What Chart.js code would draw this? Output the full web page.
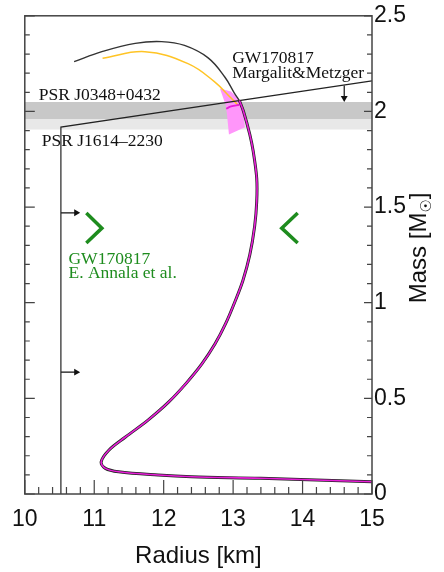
<!DOCTYPE html>
<html>
<head>
<meta charset="utf-8">
<script src="https://cdn.jsdelivr.net/npm/chart.js@4"></script>
<style>
  body { margin: 0; background: #fff; }
  #wrap { width: 444px; height: 572px; }
</style>
</head>
<body>
<div id="wrap"><canvas id="chartId"></canvas></div>
<script>
// mass-radius curve, upper branch (black)
var blackR = [10.71, 11.11, 11.59, 11.97, 12.30, 12.64, 12.88, 13.02, 13.09];
var blackM = [2.26, 2.3125, 2.356, 2.365, 2.345, 2.28, 2.18, 2.095, 2.057];
// second EOS upper branch (yellow)
var yellowR = [11.12, 11.73, 12.35, 12.73, 12.97, 13.08];
var yellowM = [2.278, 2.3125, 2.25, 2.156, 2.07, 2.03];
// shared lower branch (black under magenta)
var lowerR = [13.09, 13.15, 13.24, 13.29, 13.34, 13.34, 13.31, 13.24, 13.14, 13.02, 12.89, 12.74, 12.55, 12.32, 12.07, 11.77, 11.45, 11.21, 11.10, 11.16, 11.35, 11.92, 12.4, 13.4, 15];
var lowerM = [2.057, 2.0, 1.88, 1.79, 1.65, 1.53, 1.40, 1.25, 1.115, 1.0, 0.889, 0.785, 0.68, 0.577, 0.48, 0.385, 0.298, 0.229, 0.168, 0.134, 0.116, 0.099, 0.09, 0.082, 0.064];
// small magenta hook near the max mass
var hookR = [12.90, 12.97, 13.09];
var hookM = [2.014, 2.026, 2.035];
// pink shaded region
var pinkR = [12.81, 12.97, 13.07, 13.14, 13.17, 12.94, 12.91, 12.89, 12.81];
var pinkM = [2.12, 2.104, 2.068, 2.016, 1.917, 1.88, 1.99, 2.036, 2.12];
// pulsar mass bands
var psr0348 = [1.96, 2.05];
var psr1614 = [1.905, 1.96];
// Margalit & Metzger bound
var mmR = [10.52, 10.52, 15];
var mmM = [0, 1.918, 2.16];
// Annala et al. radius bounds (chevrons)
var lowChevR = [10.886, 11.11, 10.886];
var highChevR = [13.93, 13.70, 13.93];
var chevM = [1.469, 1.39, 1.3125];
// arrows
var arrowM = [1.47, 0.637];
var downArrowR = 14.6;

var xTicks = [10, 11, 12, 13, 14, 15];
var yTicks = [0, 0.5, 1, 1.5, 2, 2.5];

function pts(xs, ys) {
  return xs.map(function (x, i) { return { x: x, y: ys[i] }; });
}

var labels = [
  { text: 'PSR J0348+0432', r: 10.2, m: 2.083, color: '#111' },
  { text: 'PSR J1614\u20132230', r: 10.243, m: 1.844, color: '#111' },
  { text: 'GW170817', r: 12.986, m: 2.276, color: '#111' },
  { text: 'Margalit&Metzger', r: 12.986, m: 2.198, color: '#111' },
  { text: 'GW170817', r: 10.629, m: 1.229, color: '#1e8c1e' },
  { text: 'E. Annala et al.', r: 10.629, m: 1.151, color: '#1e8c1e' }
];

var line = function (data, color, width, extra) {
  var ds = { data: data, showLine: true, borderColor: color, borderWidth: width, pointRadius: 0, fill: false, tension: 0 };
  return Object.assign(ds, extra || {});
};

var datasets = [
  line(pts(lowerR, lowerM), '#e81ed8', 1.6, { tension: 0.35, order: 1 }),
  line(pts(hookR, hookM), '#e81ed8', 1.8, { tension: 0.4, order: 1 }),
  line(pts(lowerR, lowerM), '#222', 3, { tension: 0.35, order: 2 }),
  line(pts(yellowR, yellowM), '#ffc425', 1.5, { tension: 0.4, order: 3 }),
  line(pts(blackR, blackM), '#333', 1.4, { tension: 0.4, order: 2 }),
  line(pts(pinkR, pinkM), 'rgba(0,0,0,0)', 0, { fill: 'shape', backgroundColor: '#ff96fa', order: 4 }),
  line(pts(mmR, mmM), '#222', 1.2, { order: 2 }),
  line(pts(lowChevR, chevM), '#1e8c1e', 3.5, { order: 2 }),
  line(pts(highChevR, chevM), '#1e8c1e', 3.5, { order: 2 }),
  line(pts([10, 15], [psr0348[1], psr0348[1]]), 'rgba(0,0,0,0)', 0, { fill: { value: psr0348[0] }, backgroundColor: '#c8c8c8', order: 6 }),
  line(pts([10, 15], [psr1614[1], psr1614[1]]), 'rgba(0,0,0,0)', 0, { fill: { value: psr1614[0] }, backgroundColor: '#e8e8e8', order: 7 })
];

arrowM.forEach(function (m) {
  datasets.push(line(pts([10.52, 10.74], [m, m]), '#111', 1.2, {
    pointRadius: [0, 4], pointStyle: 'triangle', rotation: 90, pointBackgroundColor: '#111', pointBorderColor: '#111', pointBorderWidth: 0, order: 2
  }));
});
datasets.push(line(pts([downArrowR, downArrowR], [2.135, 2.07]), '#111', 1.2, {
  pointRadius: [0, 4], pointStyle: 'triangle', rotation: 180, pointBackgroundColor: '#111', pointBorderColor: '#111', pointBorderWidth: 0, order: 2
}));

// frame, inward ticks, annotations and the rotated y title
var decor = {
  id: 'decor',
  afterDraw: function (chart) {
    var ctx = chart.ctx, a = chart.chartArea;
    var xs = chart.scales.x, ys = chart.scales.y;
    ctx.save();
    ctx.strokeStyle = '#444';
    ctx.lineWidth = 1.5;
    ctx.strokeRect(a.left, a.top, a.right - a.left, a.bottom - a.top);
    ctx.lineWidth = 1.2;
    ctx.beginPath();
    for (var i = 0; i <= 25; i++) {
      var px = xs.getPixelForValue(10 + i * 0.2);
      var len = i % 5 === 0 ? 14 : 7;
      ctx.moveTo(px, a.bottom); ctx.lineTo(px, a.bottom - len);
    }
    for (var j = 0; j <= 25; j++) {
      var py = ys.getPixelForValue(j * 0.1);
      var major = j % 5 === 0;
      ctx.moveTo(a.left, py); ctx.lineTo(a.left + (major ? 10 : 5), py);
      ctx.moveTo(a.right, py); ctx.lineTo(a.right - (major ? 8 : 5), py);
    }
    ctx.stroke();

    ctx.textBaseline = 'middle';
    ctx.textAlign = 'left';
    ctx.font = '17.5px "Liberation Serif"';
    labels.forEach(function (l) {
      ctx.fillStyle = l.color;
      ctx.fillText(l.text, xs.getPixelForValue(l.r), ys.getPixelForValue(l.m));
    });

    ctx.translate(a.right + 47, (a.top + a.bottom) / 2 - 7);
    ctx.rotate(-Math.PI / 2);
    ctx.fillStyle = '#111';
    var t1 = 'Mass [M', t3 = ']';
    ctx.font = '24px "Liberation Sans"';
    var w1 = ctx.measureText(t1).width;
    ctx.font = '15px "DejaVu Sans"';
    var w2 = ctx.measureText('\u2609').width;
    ctx.font = '24px "Liberation Sans"';
    var w3 = ctx.measureText(t3).width;
    var x0 = -(w1 + w2 + w3) / 2;
    ctx.fillText(t1, x0, 0);
    ctx.font = '15px "DejaVu Sans"';
    ctx.fillText('\u2609', x0 + w1, 8);
    ctx.font = '24px "Liberation Sans"';
    ctx.fillText(t3, x0 + w1 + w2, 0);
    ctx.restore();
  }
};

var chrt = document.getElementById('chartId').getContext('2d');
var chartId = new Chart(chrt, {
  type: 'scatter',
  data: { datasets: datasets },
  options: {
    responsive: true,
    maintainAspectRatio: false,
    animation: false,
    events: [],
    layout: { padding: { left: 22, top: 14, right: 0, bottom: 0 } },
    plugins: { legend: { display: false }, tooltip: { enabled: false } },
    scales: {
      x: {
        type: 'linear', min: 10, max: 15,
        afterFit: function (s) { s.height = 78; },
        afterBuildTicks: function (s) { s.ticks = xTicks.map(function (v) { return { value: v }; }); },
        grid: { display: false, drawTicks: false },
        border: { display: false },
        ticks: { color: '#111', padding: 12, font: { family: 'Liberation Sans', size: 23 }, callback: function (v) { return String(v); } },
        title: { display: true, text: 'Radius [km]', color: '#111', padding: { top: 0, bottom: 1 }, font: { family: 'Liberation Sans', size: 24 } }
      },
      y: {
        type: 'linear', position: 'right', min: 0, max: 2.5,
        afterFit: function (s) { s.width = 72; },
        afterBuildTicks: function (s) { s.ticks = yTicks.map(function (v) { return { value: v }; }); },
        grid: { display: false, drawTicks: false },
        border: { display: false },
        ticks: { color: '#111', padding: 2, font: { family: 'Liberation Sans', size: 23 }, callback: function (v) { return String(v); } }
      }
    }
  },
  plugins: [decor]
});
</script>
</body>
</html>
